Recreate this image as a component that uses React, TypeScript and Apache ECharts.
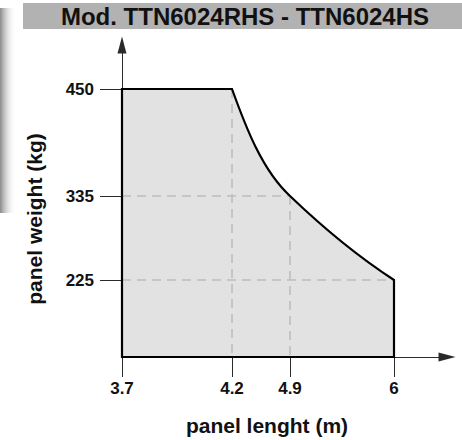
import React, { useEffect, useRef } from "react";
import * as echarts from "echarts";

const titleText = "Mod. TTN6024RHS - TTN6024HS";
const xName = "panel lenght (m)";
const yName = "panel weight (kg)";

// tick values and where they sit along each axis (the drawing is not to scale)
const xTickValues = [3.7, 4.2, 4.9, 6];
const xTickSlots = [0, 110, 168, 272];
const yTickValues = [225, 335, 450];
const yTickSlots = [77, 161, 268];

// envelope of the allowed area: panel length (m) -> max panel weight (kg)
const limitLength = [3.7, 4.2, 4.9, 6];
const limitWeight = [450, 450, 335, 225];

function interp(v: number, vals: number[], slots: number[]) {
  let i = 0;
  while (i < vals.length - 2 && v > vals[i + 1]) i++;
  const t = (v - vals[i]) / (vals[i + 1] - vals[i]);
  return slots[i] + t * (slots[i + 1] - slots[i]);
}
const mapX = (v: number) => interp(v, xTickValues, xTickSlots);
const mapY = (v: number) => interp(v, yTickValues, yTickSlots);

const FONT = "'Liberation Sans', Arial, Helvetica, sans-serif";

export default function App() {
  const ref = useRef<HTMLDivElement>(null);
  useEffect(() => {
    if (!ref.current) return;
    const chart = echarts.init(ref.current, null, { renderer: "svg" });
    const axisColor = "#2a2a2a";
    const option: any = {
      animation: false,
      backgroundColor: "#fff",
      grid: { left: 122, right: 15, top: 45, bottom: 83, containLabel: false },
      xAxis: {
        type: "value",
        min: 0,
        max: 325,
        splitLine: { show: false },
        axisLine: {
          show: true,
          symbol: ["none", "triangle"],
          symbolSize: [9, 17],
          lineStyle: { color: axisColor, width: 1 },
        },
        axisTick: {
          show: true,
          customValues: xTickSlots,
          length: 20,
          lineStyle: { color: axisColor, width: 1 },
        },
        axisLabel: {
          customValues: xTickSlots,
          margin: 23,
          color: "#111",
          fontFamily: FONT,
          fontWeight: "bold",
          fontSize: 17,
          formatter: (v: number) => {
            const i = xTickSlots.indexOf(v);
            return i >= 0 ? String(xTickValues[i]) : "";
          },
        },
      },
      yAxis: {
        type: "value",
        min: 0,
        max: 312,
        splitLine: { show: false },
        axisLine: {
          show: true,
          symbol: ["none", "triangle"],
          symbolSize: [9, 17],
          lineStyle: { color: axisColor, width: 1 },
        },
        axisTick: {
          show: true,
          customValues: yTickSlots,
          length: 22,
          lineStyle: { color: axisColor, width: 1 },
        },
        axisLabel: {
          customValues: yTickSlots,
          margin: 28,
          color: "#111",
          fontFamily: FONT,
          fontWeight: "bold",
          fontSize: 17,
          formatter: (v: number) => {
            const i = yTickSlots.indexOf(v);
            return i >= 0 ? String(yTickValues[i]) : "";
          },
        },
      },
      graphic: [
        {
          type: "rect",
          left: 0,
          top: 8,
          shape: { width: 16, height: 205 },
          style: {
            fill: new echarts.graphic.LinearGradient(0, 0, 1, 0, [
              { offset: 0, color: "#8a8a8a" },
              { offset: 1, color: "rgba(255,255,255,0)" },
            ]),
          },
          z: -1,
        },
        {
          type: "rect",
          left: 23,
          top: 3,
          shape: { width: 439, height: 26 },
          style: { fill: "#b2b2b2" },
          z: 0,
        },
        {
          type: "text",
          x: 245,
          y: 16.5,
          style: {
            text: titleText,
            fontFamily: FONT,
            fontWeight: "bold",
            fontSize: 24,
            fill: "#111",
            align: "center",
            verticalAlign: "middle",
          },
          z: 1,
        },
        {
          type: "text",
          x: 267,
          y: 425,
          style: {
            text: xName,
            fontFamily: FONT,
            fontWeight: "bold",
            fontSize: 21,
            fill: "#111",
            align: "center",
            verticalAlign: "middle",
          },
        },
        {
          type: "text",
          x: 34,
          y: 219,
          rotation: Math.PI / 2,
          style: {
            text: yName,
            fontFamily: FONT,
            fontWeight: "bold",
            fontSize: 21,
            fill: "#111",
            align: "center",
            verticalAlign: "middle",
          },
        },
      ],
      series: [
        {
          type: "custom",
          clip: false,
          data: [[0, 0]],
          renderItem: (_params: any, api: any) => {
            const P = (l: number, w: number) => api.coord([mapX(l), mapY(w)]);
            const B = (l: number) => api.coord([mapX(l), 0]);
            const n = limitLength.length;
            const pts = limitLength.map((l, i) => P(l, limitWeight[i]));
            const start = B(limitLength[0]);
            const end = B(limitLength[n - 1]);
            const cub = (a: number[], b: number[], k: number[]) =>
              `C ${a[0] + (b[0] - a[0]) * k[0]} ${a[1] + (b[1] - a[1]) * k[1]} ${
                a[0] + (b[0] - a[0]) * k[2]
              } ${a[1] + (b[1] - a[1]) * k[3]} ${b[0]} ${b[1]}`;
            const d =
              `M ${start[0]} ${start[1]} L ${pts[0][0]} ${pts[0][1]} L ${pts[1][0]} ${pts[1][1]} ` +
              cub(pts[1], pts[2], [0.24, 0.36, 0.52, 0.76]) +
              " " +
              cub(pts[2], pts[3], [0.32, 0.38, 0.64, 0.71]) +
              ` L ${end[0]} ${end[1]} Z`;
            const dashStyle = {
              stroke: "#bdbdbd",
              lineWidth: 1.6,
              lineDash: [9, 6],
              fill: "none",
            };
            const guides: any[] = [];
            for (let i = 1; i < n - 1; i++) {
              const top = pts[i];
              const bot = B(limitLength[i]);
              guides.push({
                type: "line",
                shape: { x1: top[0], y1: top[1], x2: bot[0], y2: bot[1] },
                style: dashStyle,
              });
            }
            for (let i = 2; i < n; i++) {
              const left = P(limitLength[0], limitWeight[i]);
              guides.push({
                type: "line",
                shape: { x1: left[0], y1: left[1], x2: pts[i][0], y2: pts[i][1] },
                style: dashStyle,
              });
            }
            return {
              type: "group",
              children: [
                { type: "path", shape: { pathData: d }, style: { fill: "#e2e2e2", stroke: "none" } },
                ...guides,
                {
                  type: "path",
                  shape: { pathData: d },
                  style: { fill: "none", stroke: "#000", lineWidth: 2.2, lineJoin: "miter" },
                },
              ],
            };
          },
        },
      ],
    };
    chart.setOption(option);
    return () => chart.dispose();
  }, []);
  return (
    <div
      ref={ref}
      style={{ position: "absolute", left: 0, top: 0, width: 462, height: 440 }}
    />
  );
}
